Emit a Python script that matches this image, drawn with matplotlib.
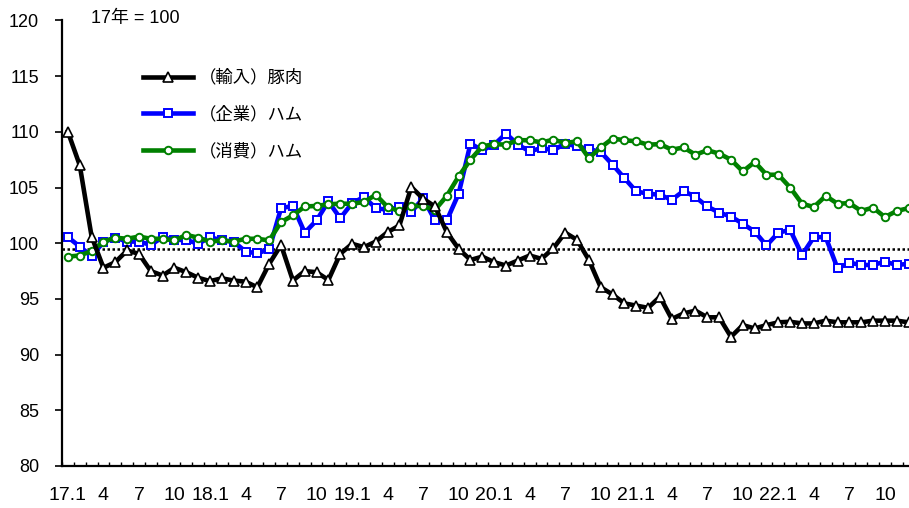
import matplotlib
matplotlib.use("Agg")
import matplotlib.pyplot as plt
import numpy as np

plt.rcParams['font.family'] = ['Liberation Sans', 'Noto Sans CJK JP']

# monthly index, 2017.1 - 2022.12 (17年 = 100)
pork_import = [110.0, 107.0, 100.6, 97.8, 98.3, 99.35, 99.05, 97.5, 97.1, 97.8, 97.4, 96.9,
               96.6, 96.85, 96.65, 96.55, 96.05, 98.15, 99.85, 96.65, 97.5, 97.4, 96.7, 99.05,
               99.95, 99.65, 100.15, 101.0, 101.6, 105.05, 104.0, 103.3, 101.0, 99.5, 98.5, 98.8,
               98.3, 98.0, 98.45, 98.9, 98.6, 99.55, 100.95, 100.3, 98.5, 96.05, 95.4, 94.6,
               94.4, 94.2, 95.2, 93.2, 93.7, 93.95, 93.35, 93.35, 91.6, 92.65, 92.35, 92.65,
               92.9, 92.95, 92.8, 92.8, 93.05, 92.9, 92.9, 92.9, 93.05, 93.05, 93.05, 92.9]
ham_company = [100.55, 99.7, 98.85, 100.1, 100.5, 100.15, 100.15, 99.85, 100.55, 100.3, 100.3, 99.95,
               100.55, 100.25, 100.15, 99.25, 99.1, 99.45, 103.15, 103.35, 100.95, 102.05, 103.75, 102.25,
               103.6, 104.15, 103.15, 103.0, 103.25, 102.8, 104.05, 102.05, 102.05, 104.45, 108.95, 108.35,
               108.85, 109.85, 108.85, 108.25, 108.55, 108.35, 108.95, 108.7, 108.45, 108.2, 107.05, 105.85,
               104.65, 104.45, 104.35, 103.9, 104.7, 104.15, 103.3, 102.75, 102.4, 101.75, 101.05, 99.8,
               100.95, 101.2, 98.95, 100.55, 100.55, 97.75, 98.25, 98.05, 98.05, 98.35, 98.05, 98.15]
ham_consumer = [98.8, 98.9, 99.3, 100.15, 100.5, 100.4, 100.6, 100.4, 100.4, 100.25, 100.75, 100.5,
                100.15, 100.25, 100.15, 100.4, 100.4, 100.25, 101.9, 102.5, 103.3, 103.35, 103.5, 103.55,
                103.55, 103.7, 104.35, 103.25, 102.9, 103.35, 103.35, 103.0, 104.25, 106.0, 107.5, 108.7,
                108.9, 108.85, 109.25, 109.25, 109.05, 109.3, 109.0, 109.15, 107.65, 108.6, 109.4, 109.25,
                109.15, 108.85, 108.9, 108.4, 108.6, 107.95, 108.35, 108.05, 107.5, 106.45, 107.3, 106.15,
                106.15, 105.0, 103.55, 103.25, 104.25, 103.55, 103.6, 102.9, 103.2, 102.35, 102.9, 103.15]
ref_level = 99.5

tick_labels = ['17.1', '4', '7', '10', '18.1', '4', '7', '10', '19.1', '4', '7', '10',
               '20.1', '4', '7', '10', '21.1', '4', '7', '10', '22.1', '4', '7', '10']
labels = ['（輸入）豚肉', '（企業）ハム', '（消費）ハム']

x = np.arange(len(pork_import))

fig = plt.figure(figsize=(9.09, 5.08), dpi=100)
ax = fig.add_axes([62 / 909, 42 / 508, (914.5 - 62) / 909, 445.5 / 508])

ax.axhline(ref_level, color='black', lw=1.8, ls=(0, (1, 1)), zorder=1)

l2, = ax.plot(x, ham_company, color='#0000ff', lw=3.3, marker='s', ms=5.4,
              mfc='white', mec='#0000ff', mew=1.4, zorder=2)
l3, = ax.plot(x, ham_consumer, color='#008000', lw=3.3, marker='o', ms=5.4,
              mfc='white', mec='#008000', mew=1.4, zorder=3)
l1, = ax.plot(x, pork_import, color='black', lw=3.3, marker='^', ms=7.5,
              mfc='white', mec='black', mew=1.2, zorder=4)

ax.set_xlim(-0.5, len(x) - 0.5)
ax.set_ylim(80, 120)
ax.set_yticks(np.arange(80, 121, 5))
ax.set_xticks(x[::3])
ax.set_xticklabels(tick_labels, family=['Liberation Sans Narrow', 'Liberation Sans'])
ax.set_xticks(np.arange(-0.5, len(x), 1), minor=True)

for s in ['top', 'right']:
    ax.spines[s].set_visible(False)
ax.spines['left'].set_linewidth(1.6)
ax.spines['bottom'].set_linewidth(1.6)

ax.tick_params(axis='y', direction='out', length=5, width=1.2, pad=11.5, labelsize=13)
ax.tick_params(axis='x', which='major', length=0, pad=15, labelsize=14)
ax.tick_params(axis='x', which='minor', direction='in', length=3, width=1)

ax.legend([l1, l2, l3], labels, loc='upper left', bbox_to_anchor=(143 / 909, 1 - 69 / 508),
          bbox_transform=fig.transFigure, frameon=False, borderpad=0, borderaxespad=0,
          handlelength=2.9, handletextpad=0.3, labelspacing=1.15, numpoints=1, fontsize=12.5)

fig.text(91 / 909, 1 - 18 / 508, '17年 = 100', va='center', ha='left', fontsize=13)

fig.savefig('out.png', dpi=100)
